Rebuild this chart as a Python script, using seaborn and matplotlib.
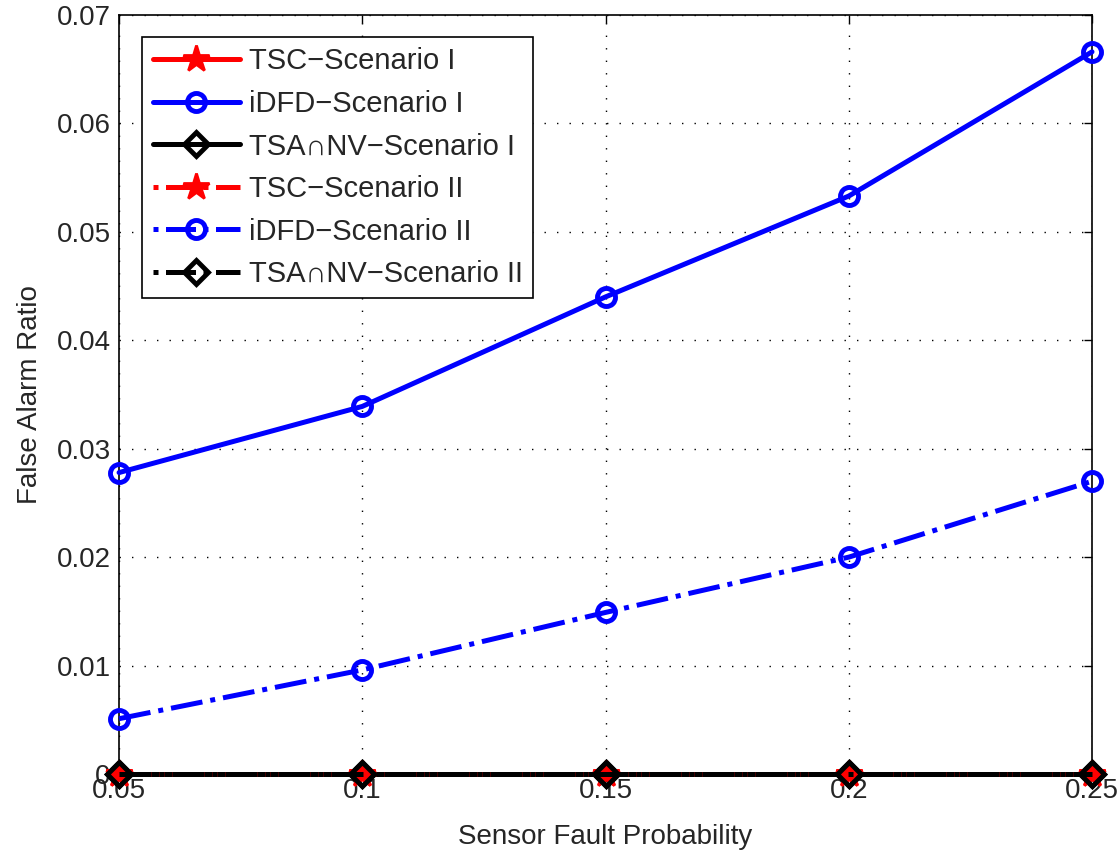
import matplotlib
matplotlib.use("Agg")
import matplotlib.pyplot as plt
import seaborn as sns
import numpy as np

fault_prob = [0.05, 0.10, 0.15, 0.20, 0.25]

tsc_s1 = [0.0, 0.0, 0.0, 0.0, 0.0]
idfd_s1 = [0.0278, 0.0339, 0.0440, 0.0533, 0.0666]
tsanv_s1 = [0.0, 0.0, 0.0, 0.0, 0.0]
tsc_s2 = [0.0, 0.0, 0.0, 0.0, 0.0]
idfd_s2 = [0.0051, 0.0096, 0.0149, 0.0200, 0.0270]
tsanv_s2 = [0.0, 0.0, 0.0, 0.0, 0.0]

x_ticks = [0.05, 0.1, 0.15, 0.2, 0.25]
x_tick_labels = ["0.05", "0.1", "0.15", "0.2", "0.25"]
y_ticks = [0, 0.01, 0.02, 0.03, 0.04, 0.05, 0.06, 0.07]
y_tick_labels = ["0", "0.01", "0.02", "0.03", "0.04", "0.05", "0.06", "0.07"]

sns.set_style("white")
plt.rcParams["font.family"] = ["Liberation Sans", "DejaVu Sans"]

fig = plt.figure(figsize=(11.2, 8.56), dpi=100)
ax = fig.add_axes([0.1063, 0.0958, 0.8687, 0.8867])

series = [
    ("TSC\u2212Scenario I", tsc_s1, "red", "-", "*", 20, "red", 2.0),
    ("iDFD\u2212Scenario I", idfd_s1, "blue", "-", "o", 13, "none", 3.5),
    ("TSA\u2229NV\u2212Scenario I", tsanv_s1, "black", "-", "D", 12, "none", 3.5),
    ("TSC\u2212Scenario II", tsc_s2, "red", "-.", "*", 20, "red", 2.0),
    ("iDFD\u2212Scenario II", idfd_s2, "blue", "-.", "o", 13, "none", 3.5),
    ("TSA\u2229NV\u2212Scenario II", tsanv_s2, "black", "-.", "D", 12, "none", 3.5),
]

for label, vals, color, ls, mk, ms, mfc, mew in series:
    sns.lineplot(x=fault_prob, y=vals, ax=ax, color=color, linestyle=ls,
                 linewidth=3.6, marker=mk, markersize=ms, markerfacecolor=mfc,
                 markeredgecolor=color, markeredgewidth=mew, label=label,
                 clip_on=False, zorder=3)

ax.set_xlim(0.05, 0.25)
ax.set_ylim(0, 0.07)
ax.set_xticks(x_ticks)
ax.set_xticklabels(x_tick_labels)
ax.set_yticks(y_ticks)
ax.set_yticklabels(y_tick_labels)
ax.tick_params(direction="in", labelsize=20, length=6, width=1, color="black",
               top=True, right=True, pad=3)
ax.tick_params(axis="y", pad=6)
ax.grid(True, color="black", linestyle=(0, (1, 8)), linewidth=1.0)
for sp in ax.spines.values():
    sp.set_color("black")
    sp.set_linewidth(1.2)

ax.set_xlabel("Sensor Fault Probability", fontsize=20, labelpad=14)
ax.set_ylabel("False Alarm Ratio", fontsize=20, labelpad=10)

leg = ax.legend(loc="upper left", bbox_to_anchor=(0.024, 0.971), fontsize=21,
                frameon=True, fancybox=False, edgecolor="black",
                handlelength=3.0, handletextpad=0.3, labelspacing=0.5,
                borderpad=0.35, borderaxespad=0.0, numpoints=1)
leg.get_frame().set_linewidth(1.2)
leg.get_frame().set_alpha(1)
# dash-dot legend handles: short centred pattern so the gaps show around the marker
for line in leg.get_lines()[3:]:
    line.set_dashes((1, 1.5, 6, 1.5))

fig.savefig("out.png", dpi=100)
